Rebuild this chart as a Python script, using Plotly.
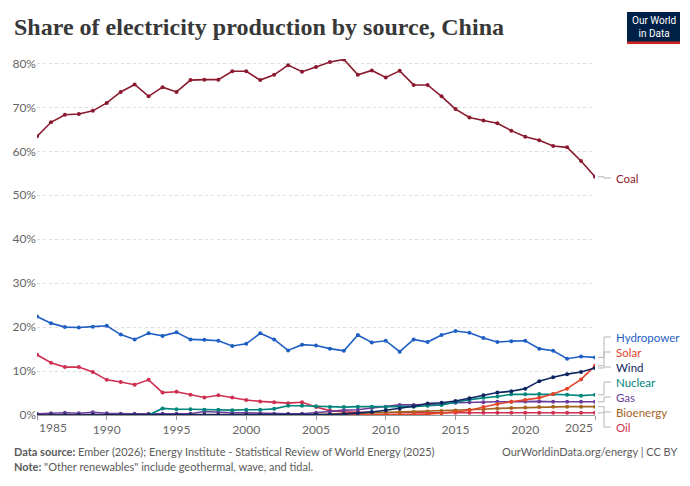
import plotly.graph_objects as go

years = list(range(1985, 2026))

coal = [63.4, 66.6, 68.3, 68.5, 69.2, 71.0, 73.5, 75.2, 72.5, 74.6, 73.5, 76.2, 76.3, 76.3, 78.2, 78.2,
        76.2, 77.4, 79.6, 78.1, 79.2, 80.3, 80.9, 77.4, 78.4, 76.8, 78.3, 75.1, 75.1, 72.5, 69.6, 67.7,
        67.0, 66.4, 64.7, 63.3, 62.5, 61.2, 60.9, 57.8, 54.2]
hydropower = [22.4, 20.9, 20.0, 19.9, 20.1, 20.3, 18.3, 17.2, 18.6, 18.0, 18.8, 17.2, 17.1, 16.9, 15.7, 16.2,
              18.6, 17.2, 14.7, 16.0, 15.8, 15.1, 14.6, 18.2, 16.5, 16.9, 14.4, 17.2, 16.6, 18.2, 19.1, 18.7,
              17.5, 16.6, 16.8, 16.9, 15.1, 14.6, 12.8, 13.3, 13.1]
solar = [0.0] * 26 + [0.03, 0.1, 0.2, 0.4, 0.7, 1.1, 1.8, 2.5, 3.0, 3.4, 3.9, 4.8, 6.0, 8.1, 11.2]
wind = [0.0] * 20 + [0.1, 0.1, 0.2, 0.4, 0.7, 1.1, 1.5, 2.0, 2.6, 2.8, 3.2, 3.8, 4.5, 5.1, 5.4, 6.0,
                     7.7, 8.6, 9.3, 9.8, 10.7]
nuclear = [0.0] * 9 + [1.5, 1.3, 1.3, 1.2, 1.2, 1.1, 1.2, 1.2, 1.4, 2.1, 2.1, 2.0, 1.8, 1.8, 1.9, 1.9,
                       1.8, 1.8, 1.9, 2.1, 2.3, 2.9, 3.5, 3.9, 4.2, 4.7, 4.7, 4.8, 4.7, 4.6, 4.4, 4.6]
gas = [0.3, 0.4, 0.5, 0.4, 0.6, 0.4, 0.3, 0.3, 0.3, 0.3, 0.3, 0.3, 0.8, 0.6, 0.5, 0.5, 0.4, 0.3, 0.3, 0.3,
       0.5, 0.8, 1.1, 1.2, 1.6, 1.9, 2.3, 2.3, 2.4, 2.5, 2.8, 2.9, 2.9, 3.0, 3.0, 3.1, 3.1, 3.0, 3.0, 3.0, 3.0]
bioenergy = [0.0] * 20 + [0.1, 0.2, 0.3, 0.4, 0.5, 0.6, 0.7, 0.7, 0.8, 0.9, 1.0, 1.2, 1.3, 1.5, 1.6, 1.7,
                          1.8, 1.9, 1.9, 1.9, 1.9]
oil = [13.7, 11.9, 10.9, 10.9, 9.8, 8.0, 7.5, 6.9, 8.0, 5.1, 5.3, 4.6, 4.0, 4.5, 4.0, 3.4, 3.1, 2.9, 2.7, 2.9,
       1.8, 1.0, 0.7, 0.6, 0.5, 0.5, 0.5, 0.5, 0.5, 0.5, 0.5, 0.5, 0.5, 0.5, 0.5, 0.5, 0.5, 0.5, 0.5, 0.5, 0.5]

x_ticks = [1985, 1990, 1995, 2000, 2005, 2010, 2015, 2020, 2025]
y_ticks = [0, 10, 20, 30, 40, 50, 60, 70, 80]

# series: name, values, colour, label pixel y
series = [
    ("Oil", oil, "#cf2f50", 427),
    ("Bioenergy", bioenergy, "#a4651f", 412),
    ("Gas", gas, "#6b3d9a", 397),
    ("Nuclear", nuclear, "#00857c", 382),
    ("Solar", solar, "#e1452a", 352),
    ("Wind", wind, "#0e2561", 367),
    ("Hydropower", hydropower, "#1f5fc4", 337),
    ("Coal", coal, "#8b1a2e", 178),
]

W, H = 690, 486
ML, MR, MT, MB = 37, 95, 59, 71
PW = W - ML - MR
PH = H - MT - MB
YMAX = 81.0


def px_to_paper_x(p):
    return (p - ML) / PW


def px_to_paper_y(p):
    return (H - MB - p) / PH


fig = go.Figure()
for name, vals, col, _ in series:
    fig.add_trace(go.Scatter(
        x=years, y=vals, mode="lines+markers", name=name,
        line=dict(color=col, width=1.6),
        marker=dict(color=col, size=4),
        hoverinfo="skip",
    ))

annotations = []
shapes = []
FONT = "Lato, 'Open Sans', sans-serif"
GREY = "#666666"

# labels with connectors
for name, vals, col, lab_py in series:
    end_p = vals[-1] / YMAX
    lab_p = px_to_paper_y(lab_py)
    x0 = px_to_paper_x(598)
    xb = px_to_paper_x(604)
    x1 = px_to_paper_x(611)
    shapes.append(dict(type="path", xref="paper", yref="paper",
                       path=f"M {x0},{end_p} L {xb},{end_p} L {xb},{lab_p} L {x1},{lab_p}",
                       line=dict(color="#b5b5b5", width=1)))
    annotations.append(dict(x=px_to_paper_x(614), y=lab_p, xref="paper", yref="paper",
                            text=name, showarrow=False, xanchor="left", yanchor="middle",
                            font=dict(family=FONT, size=11.5, color=col)))

# edge x tick labels
annotations.append(dict(x=1985, y=px_to_paper_y(427), xref="x", yref="paper", text="1985",
                        showarrow=False, xanchor="left", yanchor="middle",
                        font=dict(family=FONT, size=12, color=GREY)))
annotations.append(dict(x=2025, y=px_to_paper_y(427), xref="x", yref="paper", text="2025",
                        showarrow=False, xanchor="right", yanchor="middle",
                        font=dict(family=FONT, size=12, color=GREY)))

# title
annotations.append(dict(x=px_to_paper_x(12), y=px_to_paper_y(27), xref="paper", yref="paper",
                        text="<b>Share of electricity production by source, China</b>",
                        showarrow=False, xanchor="left", yanchor="middle",
                        font=dict(family="'Liberation Serif', serif", size=24, color="#383838")))

# footer
annotations.append(dict(x=px_to_paper_x(12), y=px_to_paper_y(451), xref="paper", yref="paper",
                        text="<b>Data source:</b> Ember (2026); Energy Institute - Statistical Review of World Energy (2025)",
                        showarrow=False, xanchor="left", yanchor="middle",
                        font=dict(family=FONT, size=11, color="#5b5b5b")))
annotations.append(dict(x=px_to_paper_x(679), y=px_to_paper_y(451), xref="paper", yref="paper",
                        text="OurWorldinData.org/energy | CC BY",
                        showarrow=False, xanchor="right", yanchor="middle",
                        font=dict(family=FONT, size=11, color="#5b5b5b")))
annotations.append(dict(x=px_to_paper_x(12), y=px_to_paper_y(467), xref="paper", yref="paper",
                        text="<b>Note:</b> \"Other renewables\" include geothermal, wave, and tidal.",
                        showarrow=False, xanchor="left", yanchor="middle",
                        font=dict(family=FONT, size=11, color="#5b5b5b")))

# logo
shapes.append(dict(type="rect", xref="paper", yref="paper",
                   x0=px_to_paper_x(627), x1=px_to_paper_x(680),
                   y0=px_to_paper_y(44), y1=px_to_paper_y(12),
                   fillcolor="#002147", line=dict(width=0)))
shapes.append(dict(type="rect", xref="paper", yref="paper",
                   x0=px_to_paper_x(627), x1=px_to_paper_x(680),
                   y0=px_to_paper_y(44), y1=px_to_paper_y(41.5),
                   fillcolor="#ce261e", line=dict(width=0)))
annotations.append(dict(x=px_to_paper_x(653.5), y=px_to_paper_y(27), xref="paper", yref="paper",
                        text="Our World<br>in Data", showarrow=False, xanchor="center", yanchor="middle",
                        font=dict(family="'Liberation Sans Narrow', 'Roboto', sans-serif", size=10, color="white")))

fig.update_layout(
    width=W, height=H,
    margin=dict(l=ML, r=MR, t=MT, b=MB),
    paper_bgcolor="white", plot_bgcolor="white",
    showlegend=False,
    annotations=annotations,
    shapes=shapes,
    xaxis=dict(range=[1985, 2025], tickvals=x_ticks,
               ticktext=["" if v in (1985, 2025) else str(v) for v in x_ticks],
               showgrid=False, zeroline=False,
               showline=True, linecolor="#999999", linewidth=1,
               ticks="outside", ticklen=4, tickcolor="#999999",
               tickfont=dict(family=FONT, size=12, color=GREY)),
    yaxis=dict(range=[0, YMAX], tickvals=y_ticks, ticktext=[f"{v}%" for v in y_ticks],
               showgrid=True, gridcolor="#dddddd", griddash="3px,3px", gridwidth=1,
               zeroline=False, showline=False, ticks="",
               tickfont=dict(family=FONT, size=12, color=GREY)),
)

fig.write_html("out.html")
